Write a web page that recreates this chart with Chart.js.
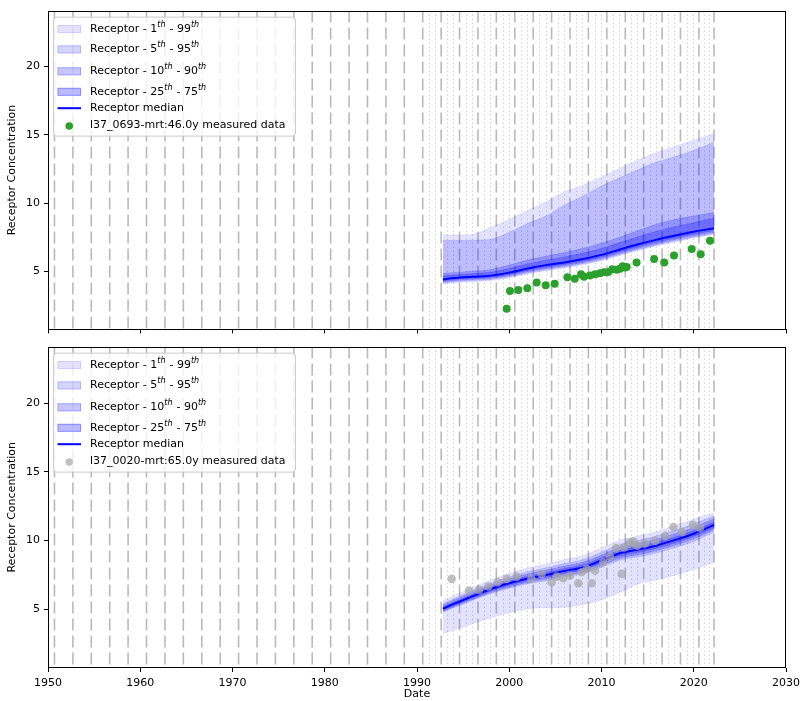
<!DOCTYPE html>
<html><head><meta charset="utf-8">
<style>
html,body{margin:0;padding:0;background:#fff;width:802px;height:701px;overflow:hidden;position:relative}
canvas{position:absolute;left:0}
#c1{top:0}
#c2{top:336px}
</style>
<script src="https://cdn.jsdelivr.net/npm/chart.js@4/dist/chart.umd.min.js"></script>
</head><body>
<canvas id="c1" width="802" height="340"></canvas>
<canvas id="c2" width="802" height="368"></canvas>
<script>
// ---------- axis ticks ----------
const xTicks = [1950, 1960, 1970, 1980, 1990, 2000, 2010, 2020, 2030];
const yTicks = [5, 10, 15, 20];
const xTitle = 'Date';
const yTitle = 'Receptor Concentration';

// ---------- vertical reference lines (years) ----------
const dashedYears = [1950.7, 1952.7, 1954.69, 1956.69, 1958.68, 1960.68, 1962.68, 1964.67, 1966.67, 1968.66,
  1970.66, 1972.66, 1974.65, 1976.65, 1978.64, 1980.64, 1982.64, 1984.63, 1986.63, 1988.62,
  1990.62, 1992.62, 1994.61, 1996.61, 1998.6, 2000.6, 2002.6, 2004.59, 2006.59, 2008.58,
  2010.58, 2012.58, 2014.57, 2016.57, 2018.56, 2020.56, 2022.2];
const dottedYears = [1991.29, 1991.95, 1993.28, 1993.95, 1995.28, 1995.94, 1997.27, 1997.94, 1999.27, 1999.93,
  2001.26, 2001.93, 2003.26, 2003.93, 2005.25, 2005.92, 2007.25, 2007.92, 2009.25, 2009.91,
  2011.24, 2011.91, 2013.24, 2013.9, 2015.24, 2015.9, 2017.23, 2017.9, 2019.23, 2019.89,
  2021.1, 2021.65];

// ---------- band years ----------
const bandYears = [1992.8, 1994, 1996, 1998, 2000, 2002, 2004, 2006, 2008, 2010, 2012, 2014, 2016, 2018, 2020, 2022.2];

// ---------- top panel (l37_0693) ----------
const topMedian = [4.4, 4.5, 4.6, 4.68, 4.9, 5.2, 5.45, 5.65, 5.9, 6.2, 6.6, 6.98, 7.32, 7.62, 7.9, 8.15];
const topP25 = [4.3, 4.39, 4.48, 4.56, 4.77, 5.06, 5.3, 5.5, 5.74, 6.04, 6.43, 6.8, 7.14, 7.44, 7.72, 7.98];
const topP75 = [4.65, 4.72, 4.82, 4.92, 5.2, 5.54, 5.81, 6.05, 6.33, 6.67, 7.1, 7.53, 7.94, 8.27, 8.55, 8.9];
const topP10 = [4.22, 4.31, 4.4, 4.48, 4.68, 4.97, 5.21, 5.4, 5.64, 5.94, 6.32, 6.69, 7.02, 7.32, 7.6, 7.86];
const topP90 = [4.85, 4.9, 5.0, 5.12, 5.45, 5.82, 6.1, 6.37, 6.68, 7.05, 7.5, 7.98, 8.45, 8.8, 9.05, 9.3];
const topP5 = [4.14, 4.23, 4.32, 4.4, 4.6, 4.88, 5.12, 5.31, 5.55, 5.85, 6.23, 6.6, 6.93, 7.23, 7.5, 7.78];
const topP95 = [7.25, 7.25, 7.28, 7.33, 7.85, 8.5, 9.05, 9.85, 10.5, 11.25, 11.85, 12.45, 13.0, 13.4, 13.85, 14.45];
const topP1 = [4.06, 4.15, 4.24, 4.32, 4.52, 4.8, 5.04, 5.23, 5.47, 5.77, 6.15, 6.52, 6.85, 7.15, 7.44, 7.72];
const topP99 = [7.7, 7.65, 7.7, 8.2, 8.8, 9.45, 10.1, 10.8, 11.3, 11.9, 12.55, 13.15, 13.7, 14.15, 14.6, 15.1];
const topObsYears = [1999.72, 2000.08, 2000.98, 2001.96, 2002.97, 2003.95, 2004.92, 2006.3, 2007.1, 2007.78,
  2008.1, 2008.75, 2009.3, 2009.84, 2010.27, 2010.74, 2011.17, 2011.65, 2012.0, 2012.3,
  2012.55, 2012.73, 2013.8, 2015.7, 2016.8, 2017.86, 2019.78, 2020.75, 2021.76];
const topObsValues = [2.26, 3.56, 3.63, 3.75, 4.18, 3.97, 4.09, 4.57, 4.45, 4.78,
  4.59, 4.69, 4.78, 4.86, 4.93, 4.95, 5.14, 5.12, 5.19, 5.36,
  5.27, 5.31, 5.65, 5.89, 5.65, 6.16, 6.64, 6.25, 7.24];
const topObsLabel = 'l37_0693-mrt:46.0y measured data';

// ---------- bottom panel (l37_0020) ----------
const botMedian = [5.05, 5.4, 5.95, 6.48, 6.9, 7.25, 7.5, 7.8, 8.05, 8.55, 9.08, 9.35, 9.65, 10.05, 10.5, 11.14];
const botP25 = [4.93, 5.28, 5.82, 6.34, 6.75, 7.09, 7.33, 7.62, 7.87, 8.36, 8.88, 9.15, 9.45, 9.85, 10.3, 10.94];
const botP75 = [5.17, 5.53, 6.08, 6.62, 7.05, 7.41, 7.67, 7.98, 8.24, 8.75, 9.29, 9.57, 9.87, 10.27, 10.72, 11.36];
const botP10 = [4.85, 5.19, 5.72, 6.23, 6.63, 6.96, 7.2, 7.48, 7.72, 8.2, 8.72, 8.98, 9.28, 9.68, 10.13, 10.79];
const botP90 = [5.3, 5.66, 6.22, 6.76, 7.2, 7.57, 7.84, 8.15, 8.42, 8.95, 9.5, 9.79, 10.1, 10.5, 10.95, 11.59];
const botP5 = [4.8, 5.13, 5.65, 6.15, 6.54, 6.86, 7.09, 7.37, 7.6, 8.07, 8.57, 8.82, 9.11, 9.5, 9.94, 10.64];
const botP95 = [5.41, 5.78, 6.35, 6.9, 7.35, 7.73, 8.01, 8.33, 8.61, 9.16, 9.72, 10.02, 10.34, 10.75, 11.21, 11.79];
const botP1 = [3.25, 3.5, 3.95, 4.4, 4.75, 5.05, 5.12, 5.15, 5.36, 5.7, 6.25, 6.85, 7.15, 7.5, 7.9, 8.42];
const botP99 = [5.65, 6.0, 6.58, 7.14, 7.6, 8.0, 8.28, 8.62, 8.9, 9.46, 10.03, 10.33, 10.66, 11.08, 11.56, 12.03];
const botObsYears = [1993.76, 1995.64, 1996.72, 1997.73, 1998.75, 1999.72, 2000.8, 2002.4, 2003.5, 2004.6,
  2005.15, 2005.86, 2006.6, 2007.5, 2007.85, 2008.4, 2008.94, 2009.3, 2010.2, 2010.92,
  2011.57, 2012.19, 2012.44, 2013.09, 2013.45, 2013.88, 2014.72, 2015.8, 2016.9, 2017.8,
  2018.69, 2019.9, 2020.68];
const botObsValues = [7.22, 6.37, 6.42, 6.66, 6.97, 7.22, 7.38, 7.22, 7.58, 6.97,
  7.38, 7.26, 7.45, 6.9, 7.7, 7.94, 6.9, 7.82, 8.42, 8.83,
  9.45, 7.58, 9.5, 9.86, 9.93, 9.62, 9.79, 9.98, 10.34, 10.99,
  10.63, 11.14, 10.94];
const botObsLabel = 'l37_0020-mrt:65.0y measured data';

// ---------- legend texts ----------
const bandLegend = [['1', '99'], ['5', '95'], ['10', '90'], ['25', '75']];
const bandAlphas = [0.11, 0.17, 0.22, 0.27];
const medianLabel = 'Receptor median';

const FONT = '"DejaVu Sans", sans-serif';
Chart.defaults.font.family = FONT;
Chart.defaults.font.size = 11;
Chart.defaults.color = '#000';

function pts(xs, ys) { return xs.map((x, i) => ({ x: x, y: ys[i] })); }

const vlinesPlugin = {
  id: 'vlines',
  beforeDatasetsDraw(chart) {
    const { ctx, chartArea: a, scales: { x } } = chart;
    ctx.save();
    ctx.beginPath(); ctx.rect(a.left, a.top, a.right - a.left, a.bottom - a.top); ctx.clip();
    ctx.strokeStyle = 'rgba(150,150,150,0.5)';
    ctx.lineWidth = 1;
    ctx.setLineDash([1.2, 2.8]);
    dottedYears.forEach(v => {
      const px = Math.round(x.getPixelForValue(v)) + 0.5;
      ctx.beginPath(); ctx.moveTo(px, a.top); ctx.lineTo(px, a.bottom); ctx.stroke();
    });
    ctx.strokeStyle = 'rgba(128,128,128,0.55)';
    ctx.lineWidth = 1.6;
    ctx.setLineDash([12, 5]);
    dashedYears.forEach(v => {
      const px = x.getPixelForValue(v);
      ctx.beginPath(); ctx.moveTo(px, a.top); ctx.lineTo(px, a.bottom); ctx.stroke();
    });
    ctx.restore();
  }
};

const framePlugin = {
  id: 'frame',
  afterDraw(chart) {
    const { ctx, chartArea: a } = chart;
    ctx.save();
    ctx.strokeStyle = '#000';
    ctx.lineWidth = 1;
    ctx.strokeRect(Math.round(a.left) + 0.5, Math.round(a.top) + 0.5, Math.round(a.right - a.left) - 1, Math.round(a.bottom - a.top) - 1);
    ctx.restore();
  }
};

const legendPlugin = {
  id: 'mplLegend',
  afterDatasetsDraw(chart, args, opts) {
    const { ctx, chartArea: a } = chart;
    const bx = a.left + 5, by = a.top + 6, bw = 242, bh = 119;
    ctx.save();
    ctx.beginPath();
    ctx.roundRect(bx + 0.5, by + 0.5, bw, bh, 3);
    ctx.fillStyle = 'rgba(255,255,255,0.8)';
    ctx.fill();
    ctx.strokeStyle = '#cccccc';
    ctx.lineWidth = 1;
    ctx.stroke();
    const rows = [12.5, 32.8, 54.7, 75.2, 91.6, 108.4];
    const px0 = bx + 4.5, px1 = bx + 28, tx = bx + 37;
    const mainFont = '11px ' + FONT, supFont = 'italic 8px ' + FONT;
    ctx.textBaseline = 'middle';
    ctx.textAlign = 'left';
    bandLegend.forEach((pair, i) => {
      const cy = by + rows[i];
      ctx.fillStyle = 'rgba(0,0,255,' + bandAlphas[i] + ')';
      ctx.fillRect(px0, cy - 4, px1 - px0, 8);
      ctx.strokeStyle = 'rgba(0,0,255,' + bandAlphas[i] + ')';
      ctx.strokeRect(px0 + 0.5, cy - 3.5, px1 - px0 - 1, 7);
      const parts = [['Receptor - ' + pair[0], 0], ['th', 1], [' - ' + pair[1], 0], ['th', 1]];
      let x = tx;
      ctx.fillStyle = '#000';
      parts.forEach(p => {
        ctx.font = p[1] ? supFont : mainFont;
        ctx.fillText(p[0], x, p[1] ? cy - 4 : cy);
        x += ctx.measureText(p[0]).width + (p[1] ? 0.5 : 0);
      });
    });
    // median
    let cy = by + rows[4];
    ctx.strokeStyle = '#0000ff'; ctx.lineWidth = 2;
    ctx.beginPath(); ctx.moveTo(px0, cy); ctx.lineTo(px1, cy); ctx.stroke();
    ctx.font = mainFont; ctx.fillStyle = '#000';
    ctx.fillText(medianLabel, tx, cy);
    // measured
    cy = by + rows[5];
    ctx.fillStyle = opts.pointColor;
    ctx.beginPath(); ctx.arc((px0 + px1) / 2, cy + 1, 3.8, 0, Math.PI * 2); ctx.fill();
    ctx.fillStyle = '#000';
    ctx.fillText(opts.obsLabel, tx, cy);
    ctx.restore();
  }
};

function makeChart(id, d, showX, xHeight) {
  const datasets = [
    { type: 'scatter', data: pts(d.obsX, d.obsY), backgroundColor: d.pointColor, borderWidth: 0,
      pointRadius: d.pointRadius, pointHoverRadius: d.pointRadius, order: 0 },
    { type: 'line', data: pts(bandYears, d.median), borderColor: '#0000ff', borderWidth: 2,
      pointRadius: 0, fill: false, cubicInterpolationMode: 'monotone', order: 1 }
  ];
  d.bands.forEach((b, i) => {
    const c = 'rgba(0,0,255,' + bandAlphas[i] + ')';
    datasets.push({ type: 'line', data: pts(bandYears, b[0]), borderColor: c, borderWidth: 0.8,
      pointRadius: 0, fill: false, cubicInterpolationMode: 'monotone', order: 2 + i });
    datasets.push({ type: 'line', data: pts(bandYears, b[1]), borderColor: c, borderWidth: 0.8,
      backgroundColor: c, pointRadius: 0, fill: '-1', cubicInterpolationMode: 'monotone', order: 2 + i });
  });
  return new Chart(document.getElementById(id), {
    type: 'line',
    data: { datasets },
    options: {
      responsive: false, animation: false, devicePixelRatio: 1,
      layout: { padding: { top: 7, right: 16, left: 0, bottom: 0 } },
      plugins: { legend: { display: false }, tooltip: { enabled: false },
        mplLegend: { obsLabel: d.obsLabel, pointColor: d.pointColor } },
      events: [],
      scales: {
        x: {
          type: 'linear', min: 1950, max: 2030,
          afterBuildTicks: s => { s.ticks = xTicks.map(v => ({ value: v })); },
          afterFit: s => { s.height = xHeight; s.paddingLeft = 0; s.paddingRight = 0; },
          grid: { drawOnChartArea: false, drawTicks: true, tickLength: 4, tickColor: '#000', tickWidth: 1, color: '#000' },
          border: { display: false },
          ticks: { padding: 4.5, maxRotation: 0, autoSkip: false, callback: v => showX ? String(v) : '' },
          title: { display: showX, text: xTitle, padding: { top: 0, bottom: 3 }, font: { size: 11 } }
        },
        y: {
          type: 'linear', min: 0.74, max: 24.1,
          afterBuildTicks: s => { s.ticks = yTicks.map(v => ({ value: v })); },
          afterFit: s => { s.width = 48; },
          grid: { drawOnChartArea: false, drawTicks: true, tickLength: 4, tickColor: '#000', tickWidth: 1, color: '#000' },
          border: { display: false },
          ticks: { padding: 4, callback: v => String(v) },
          title: { display: true, text: yTitle, padding: { top: 6, bottom: 0 }, font: { size: 11 } }
        }
      }
    },
    plugins: [vlinesPlugin, legendPlugin, framePlugin]
  });
}

makeChart('c1', {
  median: topMedian,
  bands: [[topP1, topP99], [topP5, topP95], [topP10, topP90], [topP25, topP75]],
  obsX: topObsYears, obsY: topObsValues, obsLabel: topObsLabel, pointColor: '#2ca02c', pointRadius: 4
}, false, 10);

makeChart('c2', {
  median: botMedian,
  bands: [[botP1, botP99], [botP5, botP95], [botP10, botP90], [botP25, botP75]],
  obsX: botObsYears, obsY: botObsValues, obsLabel: botObsLabel, pointColor: 'rgba(165,165,165,0.7)', pointRadius: 4.3
}, true, 36);
</script>
</body></html>
